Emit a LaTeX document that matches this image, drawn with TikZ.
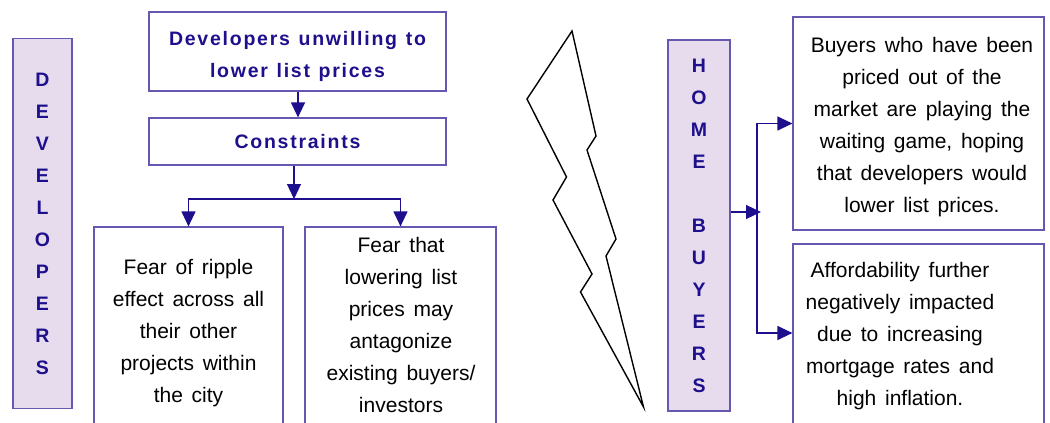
\documentclass[tikz,border=0pt]{standalone}
\usepackage{fontspec}
\setmainfont{Liberation Sans}
\newfontfamily\hdfont{Liberation Sans}[LetterSpace=9, WordSpace=1.2]
\newfontfamily\bodyfont{Liberation Sans}[WordSpace=1.5]
\usetikzlibrary{arrows.meta, positioning}
\definecolor{navy}{HTML}{1E0F8C}
\definecolor{boxline}{HTML}{6658B0}
\definecolor{lilac}{HTML}{E6DCEE}

\begin{document}
\begin{tikzpicture}[x=1pt, y=-1pt,
  >={Triangle[length=15pt, width=14pt]},
  frame/.style={
    draw=boxline, line width=1.2pt, fill=white, inner sep=0pt,
    minimum width=#1
  },
  sidebar/.style={
    draw=boxline, line width=1.2pt, fill=lilac, inner sep=0pt,
    minimum width=59pt, minimum height=370pt, align=center, text=navy,
    font=\hdfont\bfseries\fontsize{19.5}{32}\selectfont
  },
  headtxt/.style={
    align=center, text=navy,
    font=\hdfont\bfseries\fontsize{19.5}{32}\selectfont
  },
  bodytxt/.style={
    align=center, text=black,
    font=\bodyfont\fontsize{21}{32}\selectfont
  },
  arr/.style={->, line width=1.2pt, navy},
]

% ============================================================
% Canvas
% ============================================================
\fill[white] (0,0) rectangle (1050,423);
\useasboundingbox (0,0) rectangle (1050,423);

% ============================================================
% Left: developers
% ============================================================
\node[sidebar] (developers) at (42.5,223.5)
  {D\\E\\V\\E\\L\\O\\P\\E\\R\\S};

% --- Main statement ---
\node[frame=297pt, minimum height=79pt] (unwilling) at (297.5,51.5) {};
\node[headtxt] (unwilling-txt) at (297.5,56)
  {Developers unwilling to\\lower list prices};

% --- Constraints ---
\node[frame=297pt, minimum height=47pt, headtxt] (constraints)
  at (297.5,141.5) {Constraints};

% --- Two fears (boxes run past the bottom edge) ---
\node[frame=189pt, minimum height=220pt] (ripple) at (188.5,337) {};
\node[bodytxt] (ripple-txt) at (188.5,333)
  {Fear of ripple\\effect across all\\their other\\projects within\\the city};

\node[frame=191pt, minimum height=220pt] (antagonize) at (400.5,337) {};
\node[bodytxt] (antagonize-txt) at (401,325)
  {Fear that\\lowering list\\prices may\\antagonize\\existing buyers/\\investors};

% --- Arrows ---
\draw[arr] ([xshift=0.5]unwilling.south) -- ([xshift=0.5]constraints.north);
\coordinate (fork) at (294,199);
\draw[arr] ([xshift=-3.5]constraints.south) -- (fork);
\draw[arr] (fork) -| (ripple.north);
\draw[arr] (fork) -| (antagonize.north);

% ============================================================
% Middle: lightning
% ============================================================
\draw[line width=1.4pt]
  (572,31) -- (527,99) -- (566.5,177) -- (553,200) -- (592,274)
  -- (580.5,292) -- (643.5,407) -- (606,256) -- (616,239)
  -- (587,150) -- (596,136) -- cycle;

% ============================================================
% Right: home buyers
% ============================================================
\node[sidebar, minimum width=62pt, minimum height=371pt] (homebuyers)
  at (699,225.5) {H\\O\\M\\E\\\mbox{}\\B\\U\\Y\\E\\R\\S};

\node[frame=251pt, minimum height=213pt] (waiting) at (918.5,123.5) {};
\node[bodytxt] (waiting-txt) at (922,127)
  {Buyers who have been\\priced out of the\\market are playing the\\waiting game, hoping\\that developers would\\lower list prices.};

\node[frame=251pt, minimum height=200pt] (afford) at (918.5,344) {};
\node[bodytxt] (afford-txt) at (900,336)
  {Affordability further\\negatively impacted\\due to increasing\\mortgage rates and\\high inflation.};

% --- Arrows ---
\coordinate (split) at (757,212);
\draw[arr] (homebuyers.east |- split) -- ([xshift=4]split);
\draw[arr] (split) |- (waiting.west);
\draw[arr] (split) |- ([yshift=11]afford.west);

\end{tikzpicture}
\end{document}
